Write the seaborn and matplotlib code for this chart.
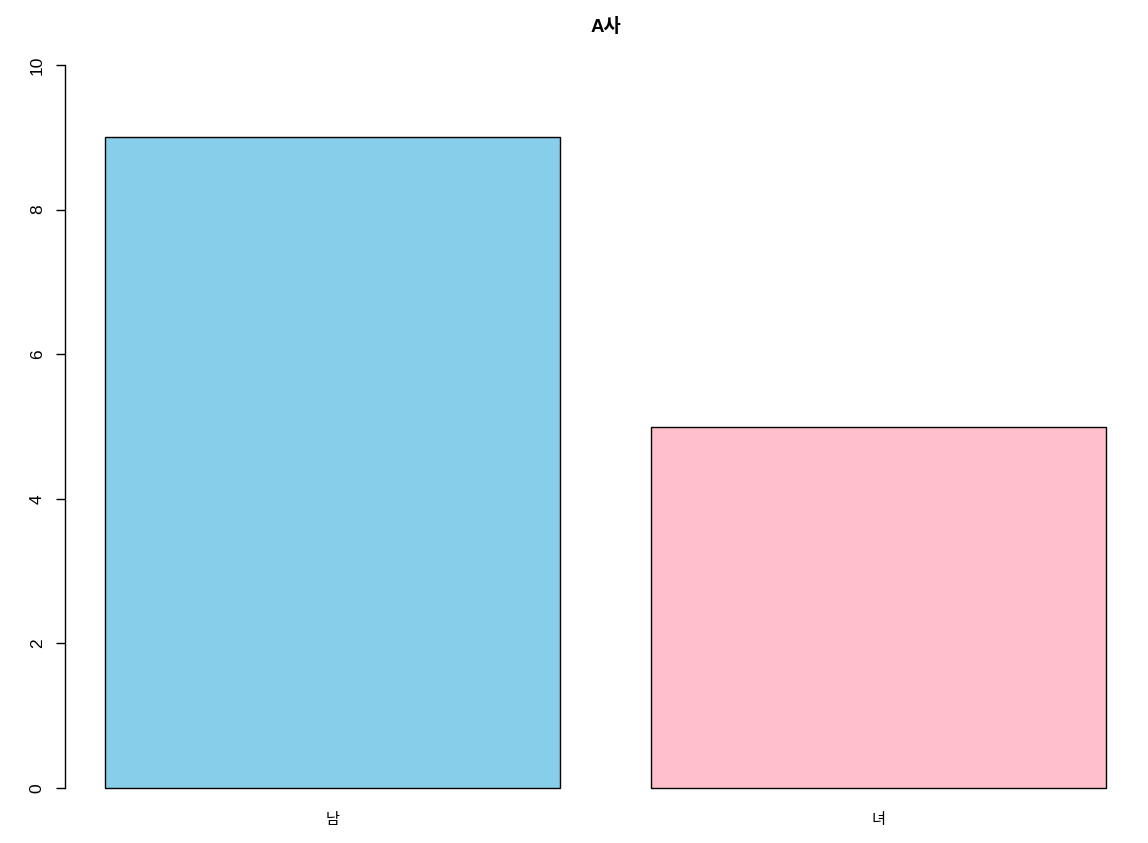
import pandas as pd
import numpy as np
import matplotlib
matplotlib.use('Agg')
import matplotlib.pyplot as plt
import seaborn as sns

# data
genders = ['남', '녀']
counts = [9, 5]
bar_colors = ['#87CEEB', '#FFC0CB']
y_ticks = [0, 2, 4, 6, 8, 10]

df = pd.DataFrame({'gender': genders, 'count': counts})

sns.set_style('white')
plt.rcParams['font.family'] = ['Liberation Sans', 'Noto Sans CJK KR']
plt.rcParams['text.color'] = 'black'
plt.rcParams['xtick.color'] = 'black'
plt.rcParams['ytick.color'] = 'black'

fig = plt.figure(figsize=(11.48, 8.43), dpi=100)
# plot region in pixels like R's default margins
ax = fig.add_axes([65 / 1148, 26 / 843, 1081 / 1148, 781 / 843])

sns.barplot(data=df, x='gender', y='count', hue='gender', palette=bar_colors,
            saturation=1, width=1 / 1.2, edgecolor='black', linewidth=1,
            legend=False, ax=ax)

ax.set_xlim(-0.49, 1.49)
ax.set_ylim(-0.4, 10.4)
ax.set_yticks(y_ticks)
ax.set_yticklabels([str(t) for t in y_ticks], rotation=90, va='center', fontsize=12.5)
ax.tick_params(axis='y', length=6.5, width=1, direction='out', pad=8, left=True)
ax.tick_params(axis='x', length=0, pad=-3, labelsize=11)
ax.set_xlabel('')
ax.set_ylabel('')

for s in ['top', 'right', 'bottom']:
    ax.spines[s].set_visible(False)
ax.spines['left'].set_bounds(0, 10)
ax.spines['left'].set_color('black')
ax.spines['left'].set_linewidth(1)

fig.text(605.5 / 1148, 1 - 27 / 843, 'A사', ha='center', va='center',
         fontsize=13.5, fontweight='bold')

fig.savefig('out.png', dpi=100, facecolor='white')
